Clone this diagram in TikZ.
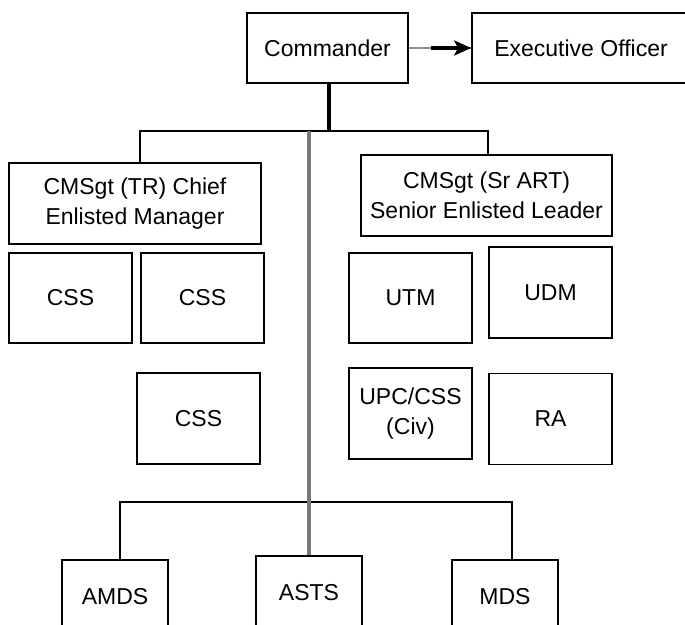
\documentclass[tikz,border=0pt]{standalone}
\usepackage{fontspec}
\setmainfont{Liberation Sans}
\usetikzlibrary{arrows.meta}
\definecolor{linegrey}{RGB}{120,120,120}
\definecolor{lightline}{RGB}{140,140,140}
\tikzset{
  box/.style={draw=black, line width=1.7pt, rectangle, inner sep=0pt, align=center,
    font=\fontsize{23}{30}\selectfont},
  conn/.style={draw=black, line width=1.8pt},
  spine/.style={draw=linegrey, line width=3.2pt},
  trunk/.style={draw=black, line width=3.4pt}
}
\begin{document}
\begin{tikzpicture}[x=1pt,y=-1pt]
\useasboundingbox (0,0) rectangle (685,624);
\clip (0,0) rectangle (685,624);
% top row
\node[box, minimum width=161pt, minimum height=70pt] (cmd) at (327.5,48) {Commander};
\node[box, minimum width=218pt, minimum height=70pt] (xo) at (581,48) {Executive Officer};
% second level
\node[box, minimum width=252pt, minimum height=81pt] (tr) at (135,203.5) {CMSgt (TR) Chief\\Enlisted Manager};
\node[box, minimum width=251pt, minimum height=81pt] (sr) at (486.5,195.5) {CMSgt (Sr ART)\\Senior Enlisted Leader};
% left group
\node[box, minimum width=123pt, minimum height=90pt] (css1) at (70.5,298) {CSS};
\node[box, minimum width=123pt, minimum height=90pt] (css2) at (202.5,298) {CSS};
\node[box, minimum width=123pt, minimum height=91pt] (css3) at (198.5,418.5) {CSS};
% right group
\node[box, minimum width=123pt, minimum height=90pt] (utm) at (410.5,298) {UTM};
\node[box, minimum width=123pt, minimum height=91pt] (udm) at (550.5,292.5) {UDM};
\node[box, minimum width=123pt, minimum height=91pt] (upc) at (410.5,413.5) {UPC/CSS\\(Civ)};
\node[box, minimum width=123pt, minimum height=91pt] (ra) at (550.5,419) {RA};
% bottom row
\node[box, minimum width=106pt, minimum height=74pt] (amds) at (115,597) {AMDS};
\node[box, minimum width=106pt, minimum height=74pt] (asts) at (309,593) {ASTS};
\node[box, minimum width=106pt, minimum height=74pt] (mds) at (505,597) {MDS};
% junction coordinates
\coordinate (j1) at (329,131);
\coordinate (jl) at (140,131);
\coordinate (jr) at (488,131);
\coordinate (jg) at (309,131);
\coordinate (bl) at (120,502);
\coordinate (br) at (512,502);
% connectors
\draw[draw=lightline, line width=1.8pt] (cmd.east) -- (xo.west);
\draw[draw=black, line width=3.2pt, shorten <=22pt, -{Stealth[length=17pt,width=15pt,inset=4pt]}] (cmd.east) -- (xo.west);
\draw[conn] (jl |- tr.north) -- (jl) -- (jr) -- (jr |- sr.north);
\draw[trunk] (j1 |- cmd.south) -- (j1);
\draw[conn] (bl |- amds.north) -- (bl) -- (br) -- (br |- mds.north);
\draw[spine] (jg) -- (asts.north);
\end{tikzpicture}
\end{document}
